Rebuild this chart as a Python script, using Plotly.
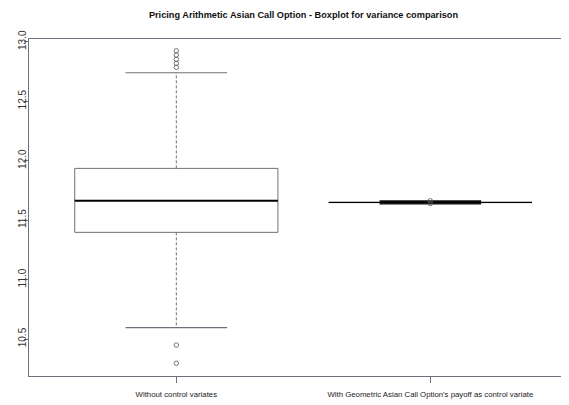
import plotly.graph_objects as go

groups = ["Without control variates",
          "With Geometric Asian Call Option's payoff as control variate"]
positions = [1, 2]
q1 = [11.397, 11.6475]
median = [11.663, 11.6495]
q3 = [11.935, 11.6515]
lower_whisker = [10.595, 11.6395]
upper_whisker = [12.739, 11.6595]
outliers = [
    [12.924, 12.888, 12.852, 12.818, 12.785, 10.449, 10.296],
    [11.662, 11.639],
]
median_width = [2.0, 1.3]
staple_width = [1.2, 2.0]
staple_color = ["#70707c", "#111111"]

y_ticks = [10.5, 11.0, 11.5, 12.0, 12.5, 13.0]

BOXWEX = 0.8
STAPLE = 0.5
LINE = "#70707c"
FONT = "Liberation Sans, Arial, sans-serif"

# the page body has an 8px margin; margins below compensate for it
OFF = 8
FIG_W = 600

fig = go.Figure()

for i, x in enumerate(positions):
    hw = BOXWEX / 2
    cw = hw * STAPLE
    fig.add_trace(go.Scatter(x=[x, x, None, x, x],
                             y=[q3[i], upper_whisker[i], None, q1[i], lower_whisker[i]],
                             mode="lines", line=dict(color=LINE, width=1, dash="3px,2px"),
                             hoverinfo="skip", showlegend=False))
    fig.add_trace(go.Scatter(x=[x - cw, x + cw, None, x - cw, x + cw],
                             y=[upper_whisker[i], upper_whisker[i], None,
                                lower_whisker[i], lower_whisker[i]],
                             mode="lines", line=dict(color=staple_color[i], width=staple_width[i]),
                             hoverinfo="skip", showlegend=False))
    fig.add_trace(go.Scatter(x=[x - hw, x + hw, x + hw, x - hw, x - hw],
                             y=[q1[i], q1[i], q3[i], q3[i], q1[i]],
                             mode="lines", line=dict(color=LINE, width=1),
                             fill="toself", fillcolor="rgba(255,255,255,0)",
                             hoverinfo="skip", showlegend=False))
    fig.add_trace(go.Scatter(x=[x - hw, x + hw], y=[median[i], median[i]],
                             mode="lines", line=dict(color="black", width=median_width[i]),
                             hoverinfo="skip", showlegend=False))
    fig.add_trace(go.Scatter(x=[x] * len(outliers[i]), y=outliers[i], mode="markers",
                             marker=dict(symbol="circle-open", size=4.5,
                                         color="#555555", line=dict(width=0.8)),
                             hoverinfo="skip", showlegend=False))

plot_w = FIG_W - (29 - OFF)

fig.update_layout(
    width=FIG_W, height=405,
    margin=dict(l=29 - OFF, r=0, t=39 - OFF, b=405 - (376 - OFF)),
    paper_bgcolor="white", plot_bgcolor="white",
    title=dict(text="<b>Pricing Arithmetic Asian Call Option - Boxplot for variance comparison</b>",
               x=(303.5 - OFF) / FIG_W, xref="container", xanchor="center",
               y=1 - (15 - OFF) / 405, yref="container", yanchor="middle",
               font=dict(family=FONT, size=9.2, color="#111111")),
    font=dict(family=FONT, color="#222222"),
    xaxis=dict(range=[0.42, 0.42 + plot_w / 254.0], tickmode="array",
               tickvals=positions, ticktext=groups,
               showgrid=False, zeroline=False, showline=True, mirror=True,
               linecolor=LINE, linewidth=1, ticks="outside", ticklen=6,
               tickcolor=LINE, tickfont=dict(size=7.8, family=FONT, color="#222222"),
               ticklabelstandoff=5),
    yaxis=dict(range=[10.189, 13.023], tickmode="array", tickvals=y_ticks,
               ticktext=[f"{v:.1f}" for v in y_ticks],
               showgrid=False, zeroline=False, showline=True, mirror=False,
               linecolor=LINE, linewidth=1, ticks="outside", ticklen=4,
               tickcolor=LINE, tickangle=-90, ticklabelstandoff=-6,
               tickfont=dict(size=10, family=FONT, color="#333333")),
)

fig.write_html("out.html")
